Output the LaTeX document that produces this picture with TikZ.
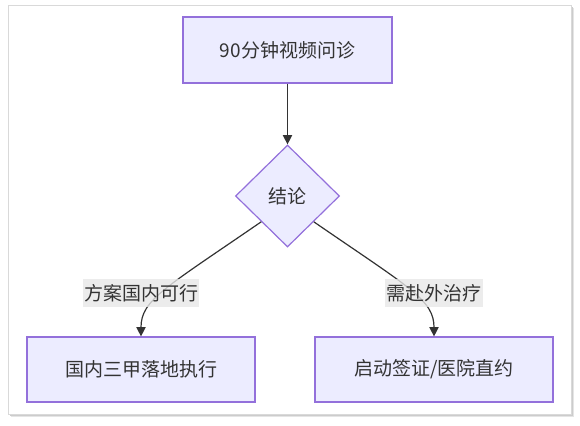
\documentclass[tikz,border=0pt]{standalone}
\usepackage{fontspec}
\setmainfont{Noto Sans CJK SC}
\usepackage{tikz}
\usetikzlibrary{arrows.meta,shapes.geometric}
\definecolor{mmfill}{HTML}{ECECFF}
\definecolor{mmline}{HTML}{9370DB}
\definecolor{mmtext}{HTML}{333333}
\definecolor{mmlbl}{HTML}{E8E8E8}
\tikzset{
  card/.style={draw=gray!30, fill=white, line width=0.6pt},
  cardshadow/.style={fill=gray!40},
  box/.style={draw=mmline, fill=mmfill, line width=0.9pt, inner sep=0pt,
              font=\fontsize{14.25pt}{17pt}\selectfont, text=mmtext},
  decision/.style={diamond, box, minimum width=78pt, minimum height=76.5pt},
  edge/.style={-{Triangle[length=7pt,width=7pt]}, line width=0.9pt, draw=mmtext},
  elbl/.style={fill=mmlbl, fill opacity=0.8, text opacity=1, text=mmtext, inner xsep=1pt,
               minimum height=21pt, font=\fontsize{14.25pt}{17pt}\selectfont}
}

\begin{document}
\begin{tikzpicture}[x=0.75pt,y=-0.75pt]
    \useasboundingbox (0,0) rectangle (580,425);
    % card with shadow
    \fill[gray!20] (11,8) rectangle (574,417);
    \fill[cardshadow] (9.5,6.5) rectangle (572.5,415.5);
    \draw[card] (8,5) rectangle (571,414);
    \node[box, minimum width=156.75pt, minimum height=49.5pt] (visit) at (287.5,50) {90分钟视频问诊};
    \node[decision] (result) at (287.5,196) {结论};
    \node[box, minimum width=171pt, minimum height=48.75pt] (local) at (141,369.5) {国内三甲落地执行};
    \node[box, minimum width=178.5pt, minimum height=48.75pt] (abroad) at (434,369.5) {启动签证/医院直约};
    \draw[edge] (visit) -- (result);
    \draw[edge] (result.south west) .. controls (165,288) and (141,300) .. (local.north);
    \draw[edge] (result.south east) .. controls (410,288) and (434,300) .. (abroad.north);
    \node[elbl] (yes) at (141,293) {方案国内可行};
    \node[elbl] (no) at (434,293) {需赴外治疗};
  \end{tikzpicture}
\end{document}
